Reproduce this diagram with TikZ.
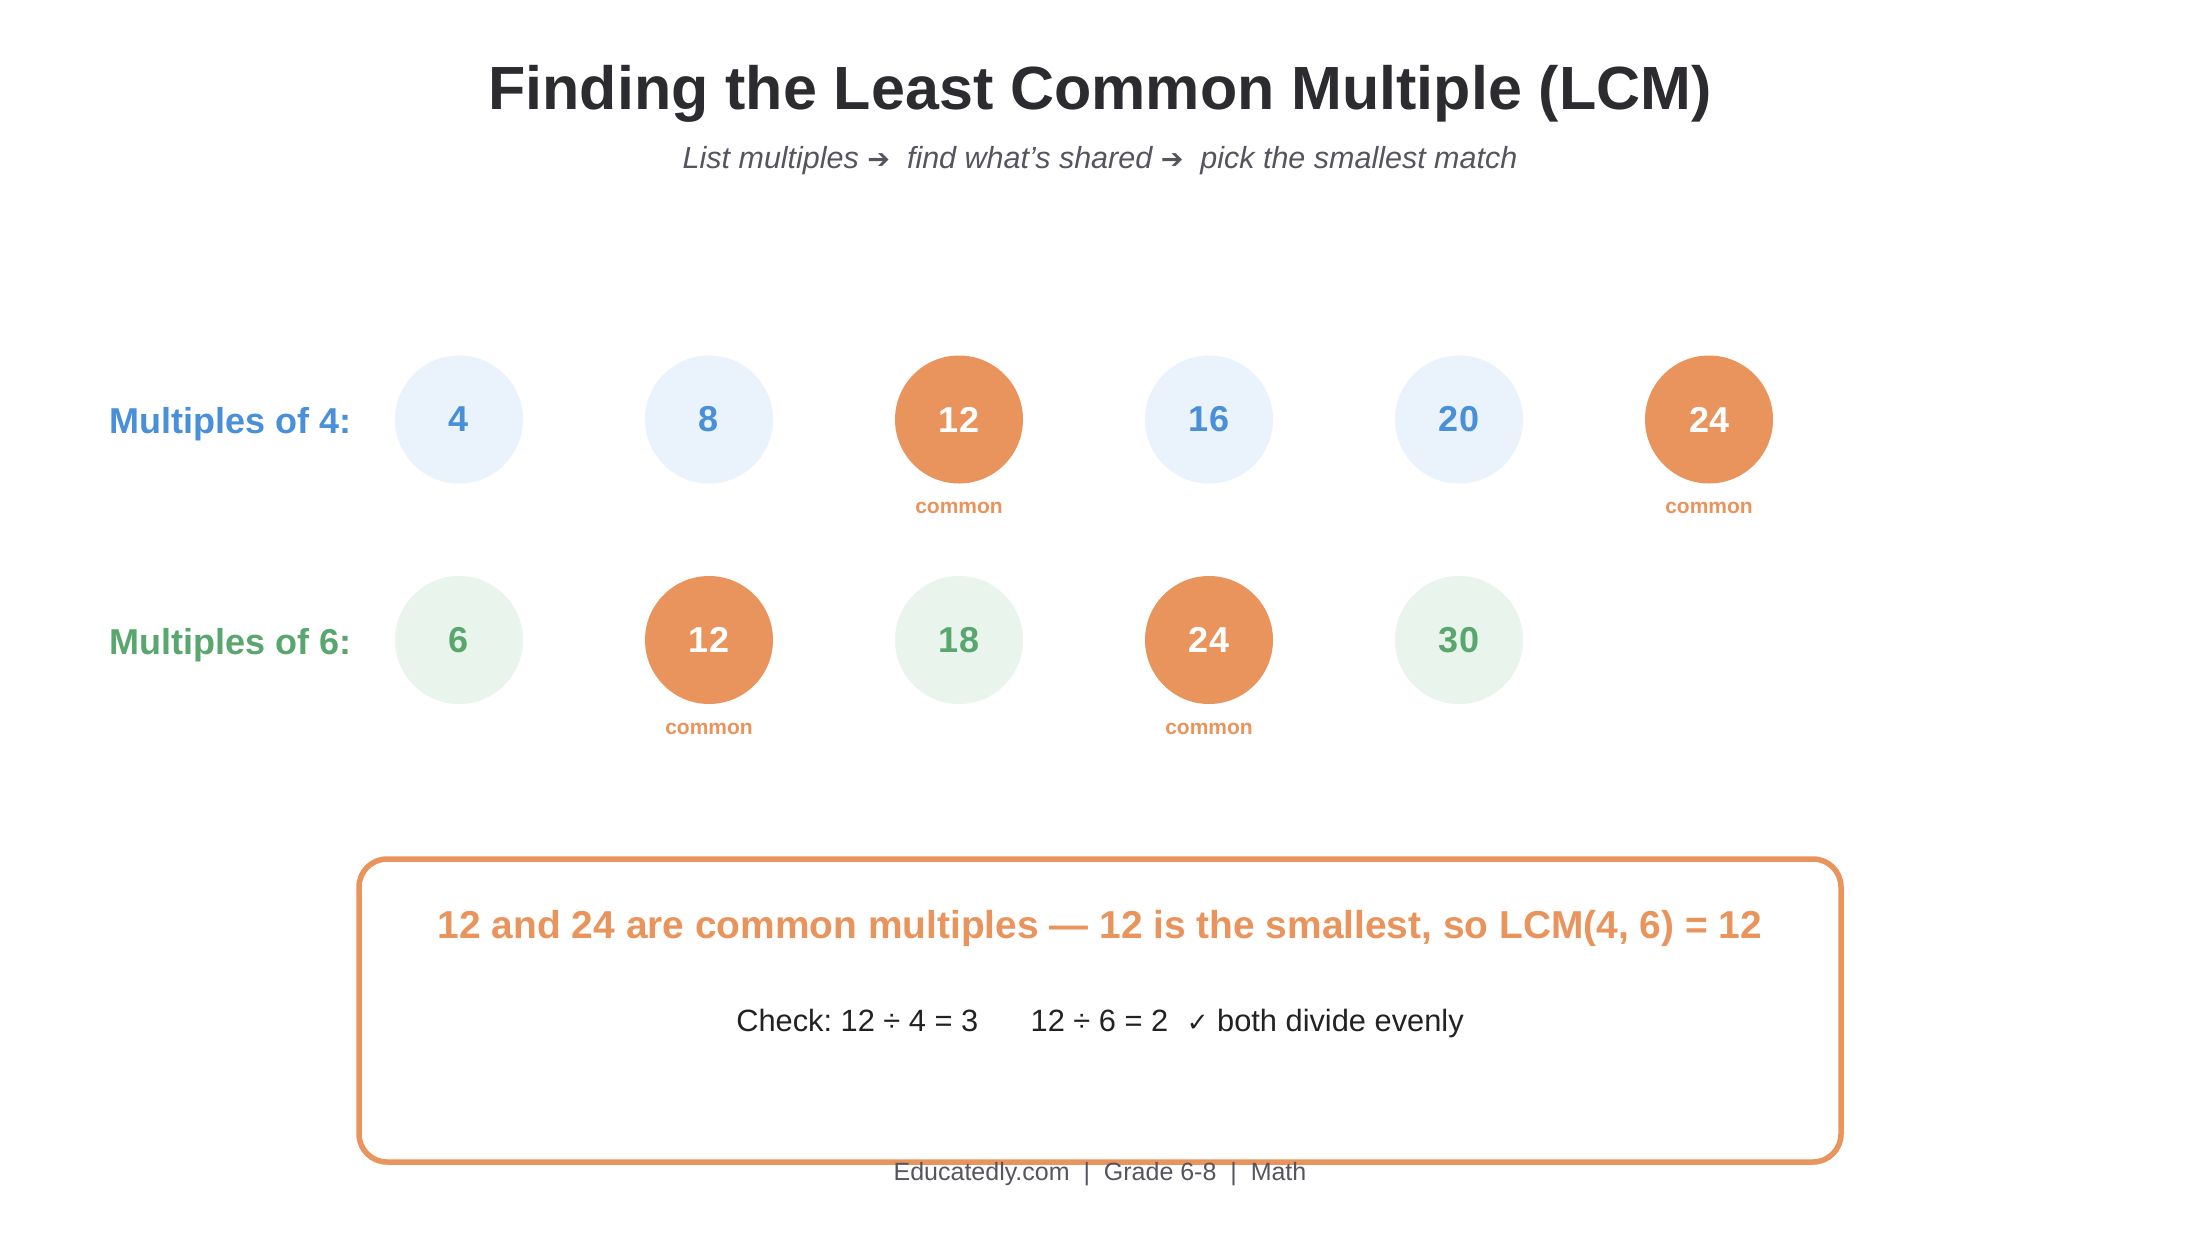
\documentclass[tikz,border=0pt]{standalone}
\usepackage{fontspec}
\setmainfont{Liberation Sans}
\newfontfamily\symfont{DejaVu Sans}
\definecolor{titleC}{HTML}{2B2B30}
\definecolor{subC}{HTML}{55555F}
\definecolor{blueT}{HTML}{4A90D9}
\definecolor{blueF}{HTML}{EAF2FB}
\definecolor{greenT}{HTML}{5AA66F}
\definecolor{greenF}{HTML}{E8F4EC}
\definecolor{orangeC}{HTML}{E8945C}
\definecolor{darkT}{HTML}{222222}
\frenchspacing
\begin{document}
\begin{tikzpicture}[x=1pt,y=-1pt,
  numbase/.style={circle, minimum size=128pt, inner sep=0pt, font=\fontsize{36}{40}\selectfont\bfseries},
  numA/.style={numbase, fill=blueF, text=blueT},
  numB/.style={numbase, fill=greenF, text=greenT},
  numC/.style={numbase, fill=orangeC, text=white},
  comlabel/.style={text=orangeC, inner sep=0pt, font=\fontsize{21}{24}\selectfont\bfseries},
  rowlabel/.style={anchor=base east, inner sep=0pt, font=\fontsize{36}{40}\selectfont\bfseries}
]
\useasboundingbox[fill=white] (0,0) rectangle (2200,1240);

% title
\node[anchor=base, inner sep=0pt, text=titleC, font=\fontsize{61}{70}\selectfont\bfseries] (title) at (1100,109) {Finding the Least Common Multiple (LCM)};
\node[anchor=base, inner sep=0pt, text=subC, font=\fontsize{30.5}{34}\selectfont\itshape] (subtitle) at (1100,168)
  {List multiples {\symfont\upshape\fontsize{27}{30}\selectfont ➔}\ \ find what's shared {\symfont\upshape\fontsize{27}{30}\selectfont ➔}\ \ pick the smallest match};

% row labels
\node[rowlabel, text=blueT] (lab4) at (352,433) {Multiples of 4:};
\node[rowlabel, text=greenT] (lab6) at (352,654) {Multiples of 6:};

% row 1
\node[numA] (a1) at (459,419.5) {4};
\node[numA] (a2) at (709,419.5) {8};
\node[numC] (a3) at (959,419.5) {12};
\node[numA] (a4) at (1209,419.5) {16};
\node[numA] (a5) at (1459,419.5) {20};
\node[numC] (a6) at (1709,419.5) {24};
\node[comlabel] (ca3) at (959,508) {common};
\node[comlabel] (ca6) at (1709,508) {common};

% row 2
\node[numB] (b1) at (459,640) {6};
\node[numC] (b2) at (709,640) {12};
\node[numB] (b3) at (959,640) {18};
\node[numC] (b4) at (1209,640) {24};
\node[numB] (b5) at (1459,640) {30};
\node[comlabel] (cb2) at (709,729) {common};
\node[comlabel] (cb4) at (1209,729) {common};

% result box
\node[draw=orangeC, line width=5.5pt, rounded corners=28pt, minimum width=1482pt, minimum height=303pt, inner sep=0pt] (box) at (1100,1010.5) {};
\node[anchor=base, inner sep=0pt, text=orangeC, font=\fontsize{38.9}{44}\selectfont\bfseries] (result) at (1100,938)
  {12 and 24 are common multiples — 12 is the smallest, so LCM(4, 6) = 12};
\node[anchor=base, inner sep=0pt, text=darkT, font=\fontsize{30.8}{34}\selectfont] (check) at (1100,1031)
  {Check: 12 ÷ 4 = 3\hspace{1.7em}12 ÷ 6 = 2\hspace{0.6em}{\symfont\fontsize{26}{30}\selectfont ✓} both divide evenly};

% footer
\node[anchor=base, inner sep=0pt, text=subC, font=\fontsize{25}{28}\selectfont] (footer) at (1100,1180)
  {Educatedly.com\ \ |\ \ Grade 6-8\ \ |\ \ Math};
\end{tikzpicture}
\end{document}
